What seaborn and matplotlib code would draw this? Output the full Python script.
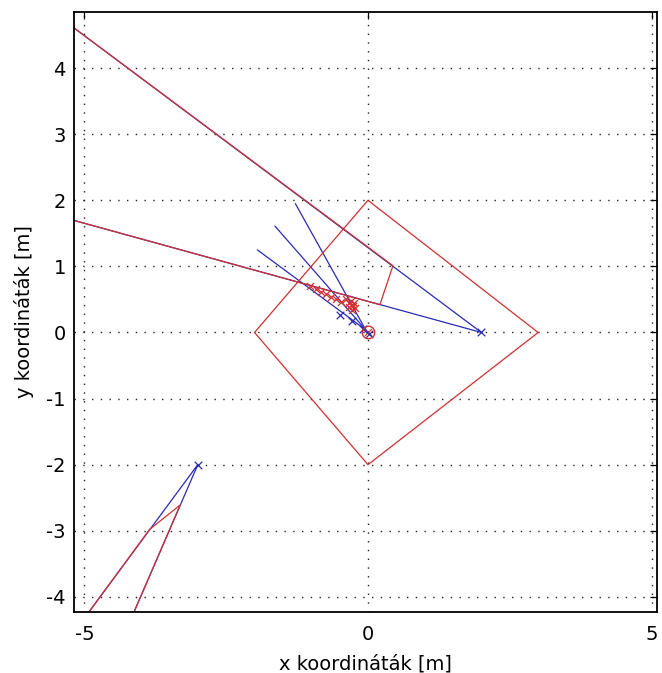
import numpy as np
import pandas as pd
import matplotlib
matplotlib.use("Agg")
import matplotlib.pyplot as plt
import seaborn as sns

# Room boundary (rotated square)
room_x = [-2, 0, 3, 0, -2]
room_y = [0, 2, 0, -2, 0]

# Sensor 1 at (2, 0): two rays and the red detection polygon
s1_x, s1_y = 2.0, 0.0
s1_far_x = [-5.2, -5.2]
s1_far_y = [4.62, 1.70]
s1_poly_x = [-5.2, 0.44, 0.21, -5.2]
s1_poly_y = [4.62, 1.01, 0.42, 1.70]

# Sensor 2 at (-3, -2)
s2_x, s2_y = -3.0, -2.0
s2_far_x = [-4.98, -4.16]
s2_far_y = [-4.30, -4.30]
s2_poly_x = [-4.98, -3.85, -3.31, -4.16]
s2_poly_y = [-4.30, -2.98, -2.61, -4.30]

# Rays from the robot near the origin
robot_x, robot_y = -0.04, 0.04
robot_ray_x = [-1.28, -1.64, -1.95]
robot_ray_y = [1.95, 1.61, 1.25]

# Estimated positions (red) and measured positions (blue)
est_x = [-1.02, -0.92, -0.83, -0.74, -0.65, -0.56, -0.47,
         -0.38, -0.34, -0.30, -0.27, -0.24, -0.33, -0.28, -0.22, 0.0]
est_y = [0.70, 0.66, 0.62, 0.58, 0.54, 0.50, 0.46,
         0.50, 0.44, 0.47, 0.40, 0.44, 0.38, 0.34, 0.37, 0.0]
meas_x = [-0.49, -0.28, -0.08, 0.02, 2.0, -3.0]
meas_y = [0.27, 0.17, 0.06, -0.02, 0.0, -2.0]

red = "#d03030"
blue = "#2a2ab8"

sns.set_style("white")
plt.rcParams["font.family"] = ["DejaVu Sans"]
plt.rcParams["text.color"] = "black"
plt.rcParams["axes.labelcolor"] = "black"

fig = plt.figure(figsize=(6.62, 6.73), dpi=100)
ax = fig.add_axes([0.112, 0.0906, 0.880, 0.8916])

def seg(x0, y0, x1, y1, color, lw=0.9):
    d = pd.DataFrame({"x": [x0, x1], "y": [y0, y1]})
    sns.lineplot(data=d, x="x", y="y", sort=False, estimator=None,
                 color=color, lw=lw, ax=ax, legend=False)

def path(xs, ys, color, lw=0.9):
    d = pd.DataFrame({"x": xs, "y": ys})
    sns.lineplot(data=d, x="x", y="y", sort=False, estimator=None,
                 color=color, lw=lw, ax=ax, legend=False)

# Blue sensor rays
for fx, fy in zip(s1_far_x, s1_far_y):
    seg(s1_x, s1_y, fx, fy, blue)
for fx, fy in zip(s2_far_x, s2_far_y):
    seg(s2_x, s2_y, fx, fy, blue)
for fx, fy in zip(robot_ray_x, robot_ray_y):
    seg(robot_x, robot_y, fx, fy, blue)

# Red detection regions and room
path(s1_poly_x, s1_poly_y, red)
path(s2_poly_x, s2_poly_y, red)
path(room_x, room_y, red)

# Markers
sns.scatterplot(x=est_x, y=est_y, marker="x", color=red, s=25,
                linewidth=0.9, ax=ax, legend=False, zorder=5)
sns.scatterplot(x=meas_x, y=meas_y, marker="x", color=blue, s=30,
                linewidth=0.9, ax=ax, legend=False, zorder=6)
ax.plot([0], [0], marker="o", ms=9, mfc="none", mec=red, mew=1.0,
        ls="none", zorder=6)

ax.set_xlim(-5.18, 5.09)
ax.set_ylim(-4.23, 4.85)
ax.set_xticks([-5, 0, 5])
ax.set_yticks([-4, -3, -2, -1, 0, 1, 2, 3, 4])
ax.set_xticklabels(["-5", "0", "5"])
ax.set_yticklabels(["-4", "-3", "-2", "-1", "0", "1", "2", "3", "4"])
ax.grid(True, color="#222222", linestyle=(0, (1, 5.3)), linewidth=1.0)
ax.tick_params(direction="in", length=5, width=0.9, labelsize=14,
               top=True, right=True, colors="black", labelcolor="black")
ax.tick_params(axis="x", pad=9)
ax.tick_params(axis="y", pad=6)
for sp in ax.spines.values():
    sp.set_color("black")
    sp.set_linewidth(1.3)
    sp.set_visible(True)

ax.set_xlabel("x koordináták [m]", fontsize=14, labelpad=8, color="black")
ax.set_ylabel("y koordináták [m]", fontsize=14, labelpad=9, color="black")

fig.savefig("out.png", dpi=100, facecolor="white")
